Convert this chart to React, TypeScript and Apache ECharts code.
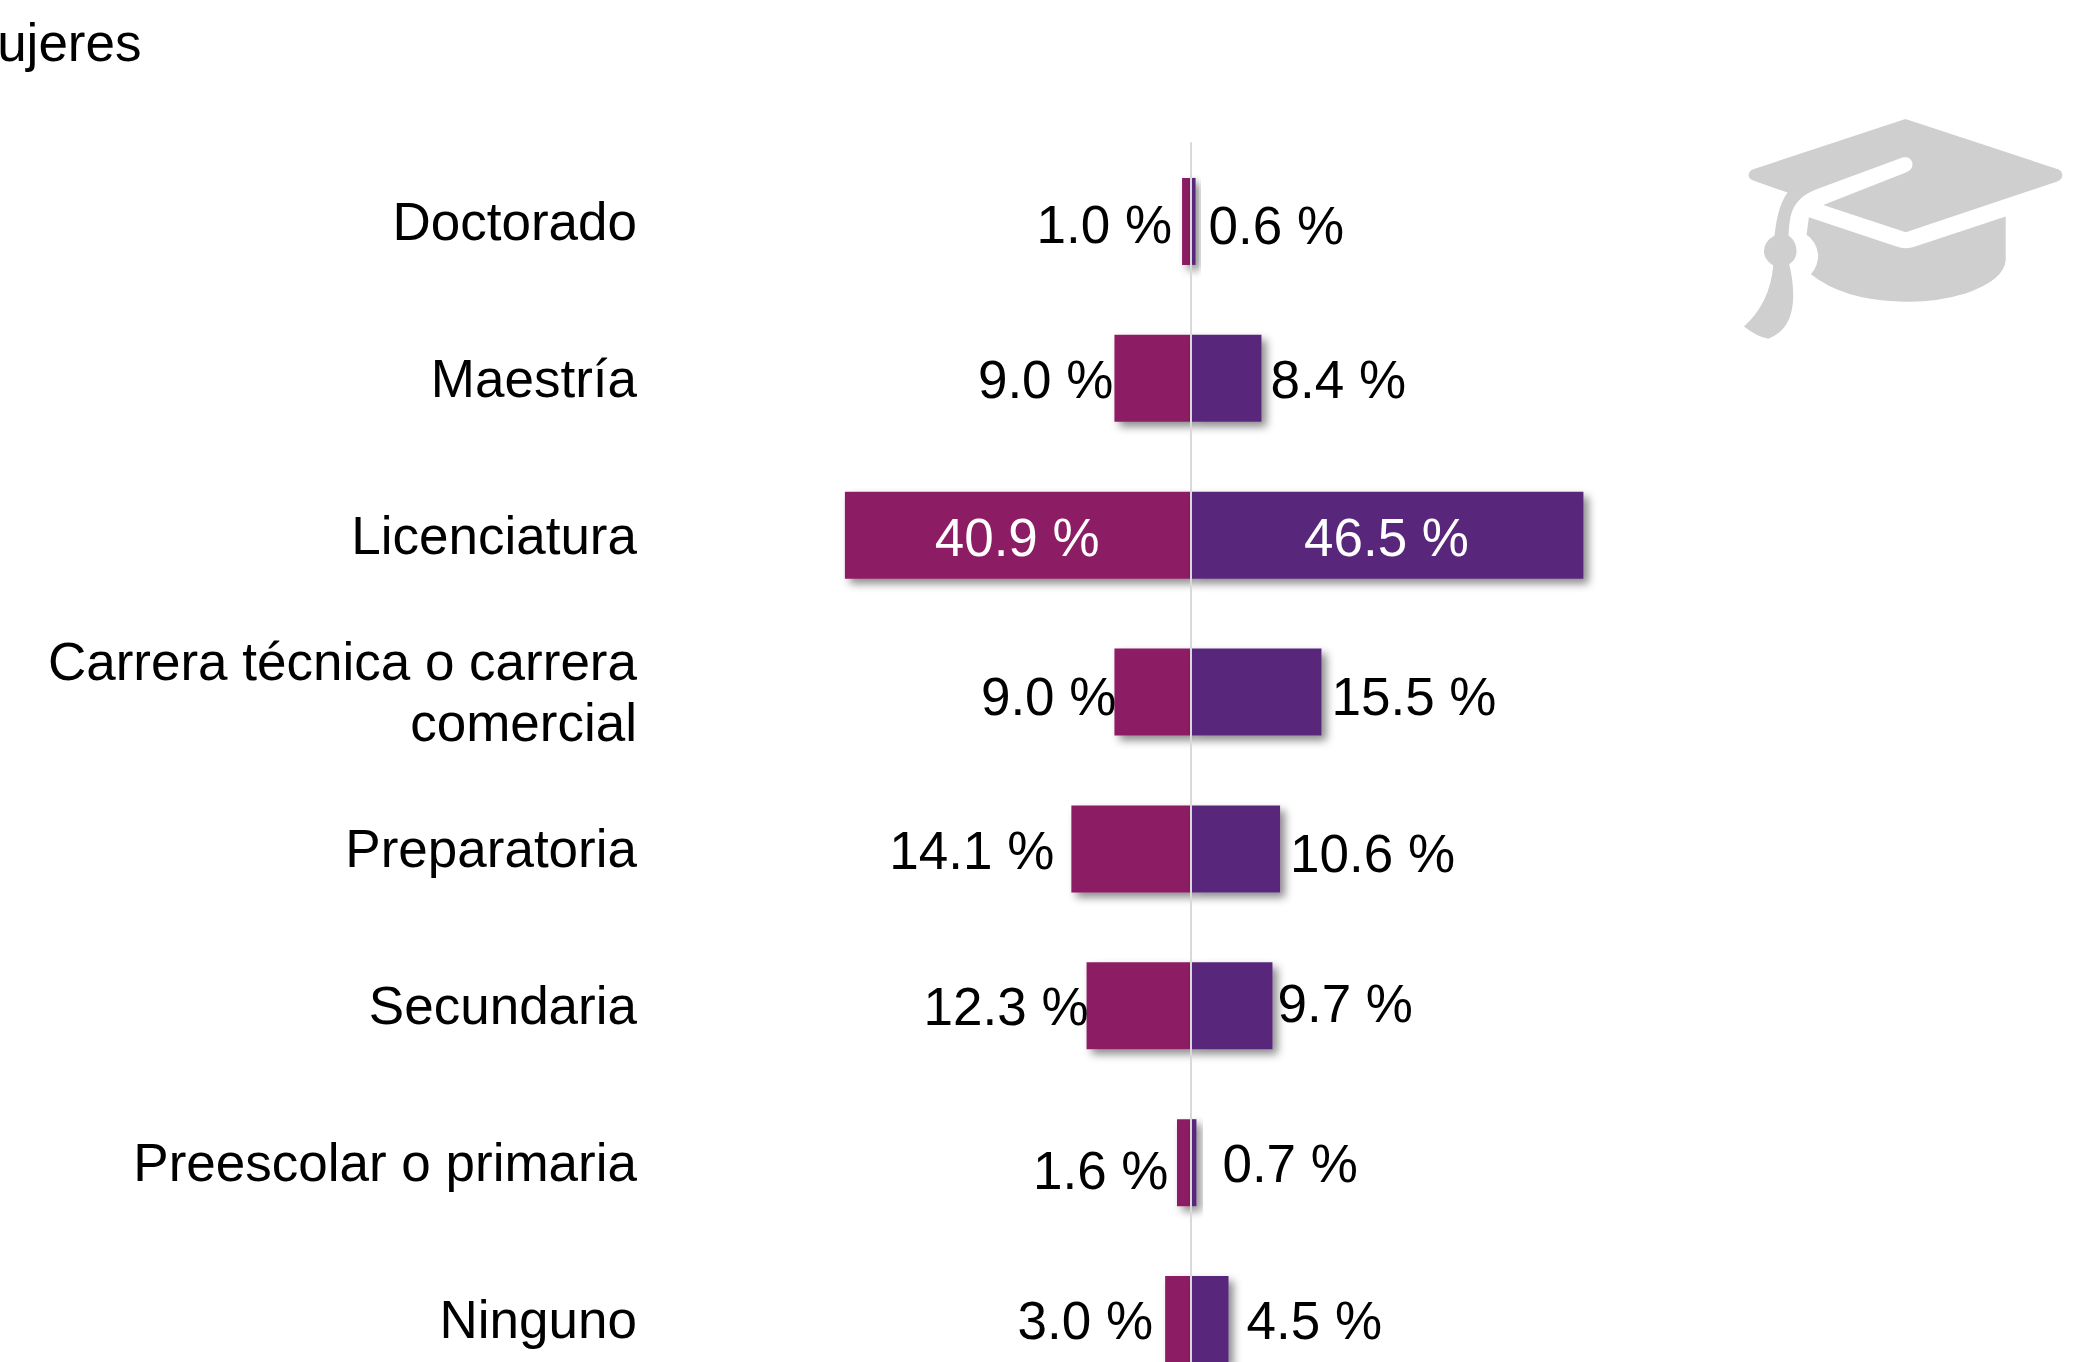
import React, { useEffect, useRef } from "react";
import * as echarts from "echarts";

const categories = ["Doctorado", "Maestría", "Licenciatura", "Carrera técnica o carrera\ncomercial", "Preparatoria", "Secundaria", "Preescolar o primaria", "Ninguno"];
const leftValues = [1.0, 9.0, 40.9, 9.0, 14.1, 12.3, 1.6, 3.0];
const rightValues = [0.6, 8.4, 46.5, 15.5, 10.6, 9.7, 0.7, 4.5];

// Manual data-label placement of the reference: horizontal gap to the bar end, vertical shift.
const leftGaps = [10, 1, 0, -2, 17, -2, 8.5, 12];
const rightGaps = [13, 9, 0, 10, 10, 5, 26, 18];
const leftShifts = [3, 1, 2, 4, 2, 1, 7.5, 0.5];
const rightShifts = [4, 1.5, 2, 4, 5, -2.5, 1, 0.5];
const insideIndex = 2;

const FONT = "'Liberation Sans', Arial, sans-serif";
const SIZE = 53;
const CAP = "M617 87L1075 238Q1088 244 1088 256Q1088 268 1075 274L618 427L370 345L620 247Q640 238 638 220Q632 198 608 203L350 298Q285 322 272 380Q266 410 266 437Q290 455 290 483Q290 510 268 523Q280 570 280 620Q278 720 205 747Q170 740 132 710Q210 640 220 527Q192 510 192 483Q192 455 224 437Q232 350 263 308L160 272Q146 266 146 256Q146 244 160 238ZM327 382L590 470Q618 480 646 470L918 380L918 510Q915 570 800 610Q700 640 600 635Q430 630 333 553Q355 530 355 495Q350 455 320 435Z";

const barShadow = { shadowColor: "rgba(0,0,0,0.45)", shadowBlur: 8, shadowOffsetX: 5, shadowOffsetY: 5 };

function pointLabel(i: number, side: "left" | "right", gap: number, shift: number) {
  if (i === insideIndex) {
    return { show: true, position: "inside", color: "#ffffff", offset: [-0.5, shift] };
  }
  return { show: true, position: side, distance: 0, color: "#000000", offset: [side === "left" ? -gap : gap, shift] };
}

export default function App() {
  const ref = useRef<HTMLDivElement>(null);
  useEffect(() => {
    if (!ref.current) return;
    echarts.graphic.registerShape("gradcap", echarts.graphic.extendPath(CAP as any, {}) as any);
    const chart = echarts.init(ref.current, null, { renderer: "svg" });
    const labelBase = {
      fontFamily: FONT,
      fontSize: SIZE,
      formatter: (p: any) => `${Math.abs(p.value).toFixed(1)} %`,
    };
    chart.setOption({
      animation: false,
      backgroundColor: "#ffffff",
      grid: { left: 683.5, top: 143, width: 1014, height: 1255, containLabel: false, outerBoundsMode: "none" },
      xAxis: { type: "value", min: -60, max: 60, show: false },
      yAxis: {
        type: "category",
        inverse: true,
        data: categories,
        z: 10,
        axisLine: { show: true, onZero: true, lineStyle: { color: "#d9d9d9", width: 2 } },
        axisTick: { show: false },
        axisLabel: { margin: 46.5, color: "#000000", fontFamily: FONT, fontSize: SIZE, lineHeight: 61, align: "right", padding: [0, 0, 10, 0] },
      },
      series: [
        {
          type: "bar",
          name: "Izquierda",
          barWidth: 87,
          barGap: "-100%",
          itemStyle: { color: "#8c1b63", ...barShadow },
          label: labelBase,
          data: leftValues.map((v, i) => ({ value: -v, label: pointLabel(i, "left", leftGaps[i], leftShifts[i]) })),
        },
        {
          type: "bar",
          name: "Derecha",
          barWidth: 87,
          barGap: "-100%",
          itemStyle: { color: "#59287a", ...barShadow },
          label: labelBase,
          data: rightValues.map((v, i) => ({ value: v, label: pointLabel(i, "right", rightGaps[i], rightShifts[i]) })),
        },
      ],
      graphic: {
        elements: [
          { type: "gradcap", x: 1700, y: 90, scaleX: 1 / 3, scaleY: 1 / 3, style: { fill: "#cfcfcf" } },
          {
            type: "text",
            x: 141.5,
            y: 42,
            style: { text: "Mujeres", fill: "#000000", font: `${SIZE}px ${FONT}`, textAlign: "right", textVerticalAlign: "middle" },
          },
        ],
      },
    });
    return () => chart.dispose();
  }, []);
  return <div ref={ref} style={{ position: "absolute", left: 0, top: 0, width: 2075, height: 1362, overflow: "hidden" }} />;
}
